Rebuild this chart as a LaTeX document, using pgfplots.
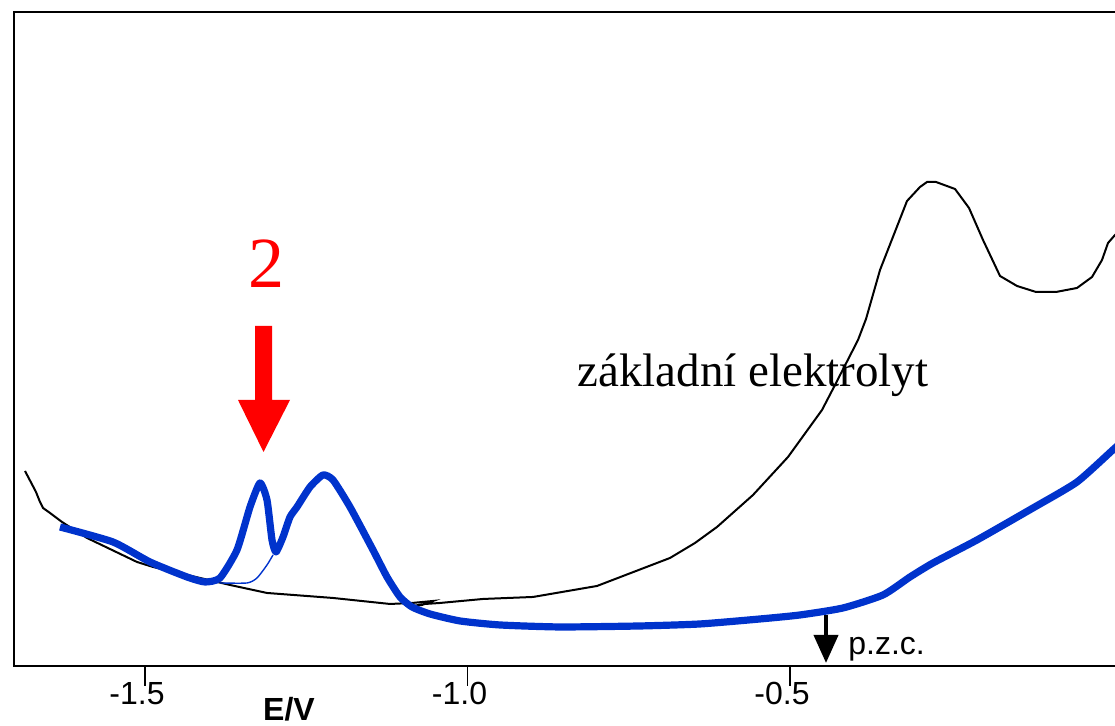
\documentclass[border=0pt]{standalone}
\usepackage{fontspec}
\setmainfont{Liberation Sans}
\newfontfamily\seriffont{Liberation Serif}
\usepackage{pgfplots}
\pgfplotsset{compat=1.18}
\usetikzlibrary{arrows.meta}
\definecolor{cvblue}{RGB}{0,51,204}
\begin{document}
\begin{tikzpicture}
\begin{axis}[
  name=ax,
  scale only axis,
  width=565.4pt, height=327pt,
  xmin=-1.7031, xmax=0.05,
  ymin=60, ymax=714,
  clip=false,
  axis line style={line width=1pt},
  xtick={-1.5,-1.0,-0.5},
  xticklabels={-1.5,-1.0,-0.5},
  xtick pos=bottom,
  ytick=\empty,
  tick align=outside,
  major tick length=10pt,
  every tick/.style={black, line width=0.6pt},
  xticklabel style={font=\fontsize{16}{19}\selectfont, anchor=base, yshift=-9.5pt, xshift=-4pt},
]
% základní elektrolyt (black, thin)
\addplot[black, line width=1pt] coordinates {
(-1.68605,255) (-1.66900,234) (-1.66279,224) (-1.65814,218) (-1.64729,213)
(-1.62869,204) (-1.58993,188) (-1.51241,164) (-1.48760,159) (-1.36822,141)
(-1.31086,133) (-1.20853,128) (-1.12016,122) (-1.08605,123) (-1.05349,125)
(-1.07055,121) (-1.08450,120) (-1.06590,122) (-1.04264,123) (-0.97597,127)
(-0.89845,129) (-0.79923,140) (-0.68605,168) (-0.64729,183) (-0.61318,199)
(-0.55737,231) (-0.50310,269) (-0.45039,316) (-0.43024,341) (-0.39458,386)
(-0.38217,407) (-0.36047,456) (-0.31861,525) (-0.29845,539) (-0.28760,544)
(-0.27365,544) (-0.24419,537) (-0.22248,518) (-0.20078,486) (-0.17442,450)
(-0.14807,440) (-0.11861,434) (-0.08760,434) (-0.05504,438) (-0.03179,449)
(-0.01628,466) (-0.00698,483) (0.00387,491) (0.02713,506)
};
% thin blue baseline under peak 2
\addplot[cvblue, line width=0.7pt, smooth, tension=0.4] coordinates {
(-1.38372,143) (-1.34186,143) (-1.32636,148) (-1.31086,161) (-1.30155,171)
};
% thick blue curve
\addplot[cvblue, line width=3.6pt, smooth, tension=0.35, line join=round, line cap=butt] coordinates {
(-1.63179,199) (-1.54962,184) (-1.49225,164) (-1.43489,149) (-1.40698,144)
(-1.38372,148) (-1.35737,176) (-1.33721,219) (-1.32171,243) (-1.31086,226)
(-1.30310,186) (-1.29690,174) (-1.28605,189) (-1.27520,209) (-1.26434,219)
(-1.24419,239) (-1.22403,251) (-1.20853,246) (-1.18217,219) (-1.14652,176)
(-1.12481,149) (-1.10465,129) (-1.08605,119) (-1.05814,112) (-1.01163,105)
(-0.94962,101) (-0.85659,99) (-0.73256,100) (-0.63954,102) (-0.54652,107)
(-0.48450,111) (-0.41783,118) (-0.35582,131) (-0.31396,149) (-0.27830,163)
(-0.21008,186) (-0.12326,218) (-0.05504,244) (0.00387,278) (0.05348,306)
};
% red arrow and label 2
\fill[red] (axis cs:-1.32946,400) -- (axis cs:-1.30310,400) -- (axis cs:-1.30310,326)
  -- (axis cs:-1.27520,326) -- (axis cs:-1.31628,274) -- (axis cs:-1.35582,326)
  -- (axis cs:-1.32946,326) -- cycle;
\node[anchor=base, inner sep=0pt, text=red, font=\seriffont\fontsize{36}{40}\selectfont]
  at (axis cs:-1.31241,438) {2};
% label
\node[anchor=base west, inner sep=0pt, font=\seriffont\fontsize{23.5}{28}\selectfont]
  at (axis cs:-0.83024,339) {základní elektrolyt};
% p.z.c. arrow
\draw[black, line width=2pt, -{Triangle[width=12pt,length=14pt]}]
  (axis cs:-0.44419,111) -- (axis cs:-0.44419,63);
\node[anchor=base west, inner sep=0pt, font=\fontsize{16}{19}\selectfont]
  at (axis cs:-0.41008,71) {p.z.c.};
% axis label
\node[anchor=base, inner sep=0pt, font=\bfseries\fontsize{16}{19}\selectfont]
  at (axis cs:-1.27675,5) {E/V};
\coordinate (BBsw) at (axis cs:-1.72481,0);
\coordinate (BBne) at (axis cs:0.00387,726);
\end{axis}
\pgfresetboundingbox
\useasboundingbox (BBsw) rectangle (BBne);
\end{tikzpicture}
\end{document}
